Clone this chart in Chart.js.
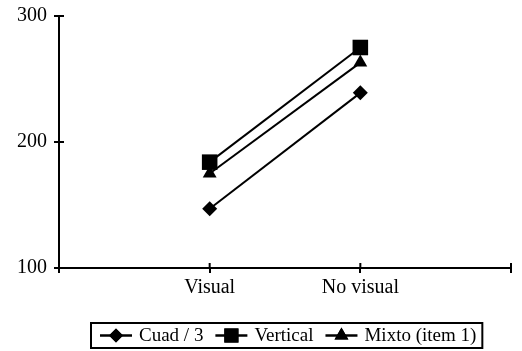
<!DOCTYPE html>
<html>
<head>
<meta charset="utf-8">
<script src="https://cdn.jsdelivr.net/npm/chart.js@4"></script>
<style>
  html, body { margin: 0; padding: 0; background: #fff; }
  #wrap { width: 522px; height: 351px; }
</style>
</head>
<body>
<div id="wrap"><canvas id="chart" width="522" height="351"></canvas></div>
<script>
const categories = ["", "Visual", "No visual", ""];
const cuad = [null, 147, 239, null];
const vertical = [null, 184, 275, null];
const mixto = [null, 175, 263, null];
const seriesNames = ["Cuad / 3", "Vertical", "Mixto (item 1)"];
const yTicks = [100, 200, 300];

const FONT = "'Liberation Serif', 'Times New Roman', serif";

// ticks crossing the axis line (Excel style), drawn from the library's scales
const crossTicks = {
  id: "crossTicks",
  afterDraw(chart) {
    const ctx = chart.ctx;
    const x = chart.scales.x, y = chart.scales.y;
    ctx.save();
    ctx.strokeStyle = "#000";
    ctx.lineWidth = 2;
    ctx.beginPath();
    x.ticks.forEach((t, i) => {
      const px = x.getPixelForTick(i);
      ctx.moveTo(px, x.top);
      ctx.lineTo(px, x.top - 5);
    });
    y.ticks.forEach((t, i) => {
      const py = y.getPixelForTick(i);
      ctx.moveTo(y.right, py);
      ctx.lineTo(y.right + 5, py);
    });
    ctx.stroke();
    ctx.restore();
  }
};

// legend box with line + marker samples
const boxLegend = {
  id: "boxLegend",
  afterDraw(chart) {
    const ctx = chart.ctx;
    const left = 91, top = 323, h = 25;
    ctx.save();
    ctx.font = "19px " + FONT;
    ctx.textBaseline = "middle";
    let x = left + 9;
    const cy = top + h / 2;
    chart.data.datasets.forEach((ds) => {
      ctx.strokeStyle = "#000";
      ctx.lineWidth = 2.5;
      ctx.beginPath();
      ctx.moveTo(x, cy);
      ctx.lineTo(x + 32, cy);
      ctx.stroke();
      Chart.helpers.drawPoint(ctx, {
        pointStyle: ds.pointStyle,
        radius: ds.legendRadius,
        borderWidth: 0
      }, x + 16, cy);
      ctx.fillStyle = "#000";
      ctx.fill();
      ctx.fillText(ds.label, x + 39, cy + 1);
      x += 39 + ctx.measureText(ds.label).width + 12;
    });
    ctx.lineWidth = 2;
    ctx.strokeRect(left, top, x - left - 6, h);
    ctx.restore();
  }
};

function ds(label, data, style, r, lr) {
  return {
    label,
    data,
    borderColor: "#000",
    backgroundColor: "#000",
    borderWidth: 2,
    pointStyle: style,
    pointRadius: r,
    legendRadius: lr,
    pointBackgroundColor: "#000",
    pointBorderWidth: 0,
    tension: 0
  };
}

new Chart(document.getElementById("chart"), {
  type: "line",
  data: {
    labels: categories,
    datasets: [
      ds(seriesNames[0], cuad, "rectRot", 7.5, 7),
      ds(seriesNames[1], vertical, "rect", 11, 10),
      ds(seriesNames[2], mixto, "triangle", 8, 8)
    ]
  },
  options: {
    responsive: false,
    animation: false,
    events: [],
    layout: { padding: { left: 0, right: 3, top: 16, bottom: 0 } },
    plugins: { legend: { display: false }, tooltip: { enabled: false } },
    scales: {
      x: {
        type: "category",
        offset: false,
        grid: { drawOnChartArea: false, color: "#000", lineWidth: 2, tickLength: 5 },
        border: { color: "#000", width: 2 },
        ticks: { color: "#000", font: { family: FONT, size: 20 }, padding: 3, maxRotation: 0, autoSkip: false },
        afterFit(s) { s.height = 83; s.paddingLeft = 0; s.paddingRight = 0; }
      },
      y: {
        min: 100,
        max: 300,
        afterBuildTicks(s) { s.ticks = yTicks.map(v => ({ value: v })); },
        grid: { drawOnChartArea: false, color: "#000", lineWidth: 2, tickLength: 5 },
        border: { color: "#000", width: 2 },
        ticks: { color: "#000", font: { family: FONT, size: 20 }, padding: 7 },
        afterFit(s) { s.width = 59; s.paddingTop = 0; s.paddingBottom = 0; }
      }
    }
  },
  plugins: [crossTicks, boxLegend]
});
</script>
</body>
</html>
